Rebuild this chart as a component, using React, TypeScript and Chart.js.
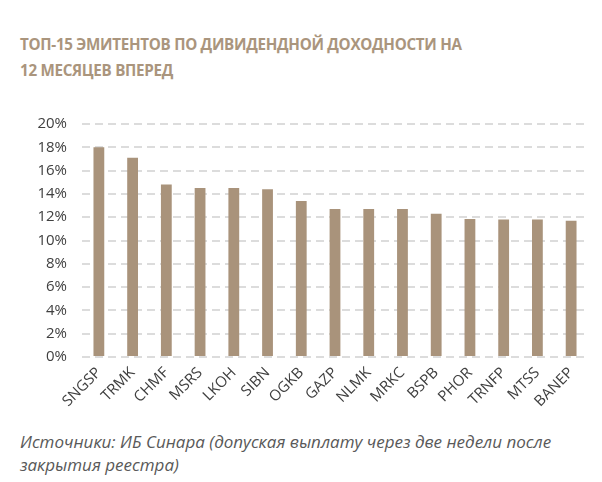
import React, { useEffect, useRef } from "react";
import { Chart, registerables } from "chart.js";

Chart.register(...registerables);

const tickers: string[] = [
  "SNGSP", "TRMK", "CHMF", "MSRS", "LKOH", "SIBN", "OGKB", "GAZP",
  "NLMK", "MRKC", "BSPB", "PHOR", "TRNFP", "MTSS", "BANEP",
];
const dividendYield: number[] = [
  18.0, 17.1, 14.8, 14.5, 14.5, 14.4, 13.4, 12.7,
  12.7, 12.7, 12.3, 11.85, 11.8, 11.8, 11.7,
];
const yTicks: number[] = [0, 2, 4, 6, 8, 10, 12, 14, 16, 18, 20];

const titleLines: string[] = [
  "ТОП-15 ЭМИТЕНТОВ ПО ДИВИДЕНДНОЙ ДОХОДНОСТИ НА",
  "12 МЕСЯЦЕВ ВПЕРЕД",
];
const sourceLines: string[] = [
  "Источники: ИБ Синара (допуская выплату через две недели после",
  "закрытия реестра)",
];

const BAR = "#A9937B";
const TEXT = "#404040";

export default function App() {
  const ref = useRef<HTMLCanvasElement | null>(null);

  useEffect(() => {
    if (!ref.current) return;
    const chart = new Chart(ref.current, {
      type: "bar",
      data: {
        labels: tickers,
        datasets: [
          {
            data: dividendYield,
            backgroundColor: BAR,
            borderWidth: 0,
            barPercentage: 0.32,
            categoryPercentage: 1,
          },
        ],
      },
      options: {
        responsive: false,
        animation: false,
        devicePixelRatio: 1,
        layout: { padding: { left: 0, right: 14, top: 15, bottom: 0 } },
        plugins: {
          legend: { display: false },
          tooltip: { enabled: false },
          title: { display: false },
        },
        scales: {
          x: {
            grid: { display: false, drawTicks: false },
            border: { display: false },
            ticks: {
              color: TEXT,
              font: { family: "Open Sans", size: 15 },
              minRotation: 45,
              maxRotation: 45,
              padding: 7,
              autoSkip: false,
            },
            afterFit: (s: any) => {
              s.height = 73;
            },
          },
          y: {
            min: yTicks[0],
            max: yTicks[yTicks.length - 1],
            grid: {
              display: true,
              drawOnChartArea: true,
              color: "#DCDCDC",
              lineWidth: 2,
              drawTicks: false,
            },
            border: { display: false, dash: [8, 5] },
            ticks: {
              stepSize: yTicks[1] - yTicks[0],
              color: TEXT,
              font: { family: "Open Sans", size: 15 },
              padding: 15,
              callback: (v: any) => `${v}%`,
            },
            afterFit: (s: any) => {
              s.width = 82;
            },
          },
        },
      },
    });
    return () => chart.destroy();
  }, []);

  return (
    <div
      style={{
        position: "absolute",
        left: 0,
        top: 0,
        width: 602,
        height: 482,
        background: "#fff",
        overflow: "hidden",
      }}
    >
      <div
        style={{
          position: "absolute",
          left: 20,
          top: 31,
          fontFamily: "Open Sans",
          fontWeight: 700,
          fontSize: 15.2,
          letterSpacing: -0.3,
          lineHeight: "26px",
          color: "#AA957D",
          whiteSpace: "nowrap",
        }}
      >
        {titleLines.map((l, i) => (
          <div key={i}>{l}</div>
        ))}
      </div>
      <canvas
        ref={ref}
        width={602}
        height={330}
        style={{ position: "absolute", left: 0, top: 100 }}
      />
      <div
        style={{
          position: "absolute",
          left: 20,
          top: 430,
          fontFamily: "Open Sans",
          fontStyle: "italic",
          fontSize: 17,
          lineHeight: "23px",
          color: "#595959",
          whiteSpace: "nowrap",
        }}
      >
        {sourceLines.map((l, i) => (
          <div key={i}>{l}</div>
        ))}
      </div>
    </div>
  );
}
